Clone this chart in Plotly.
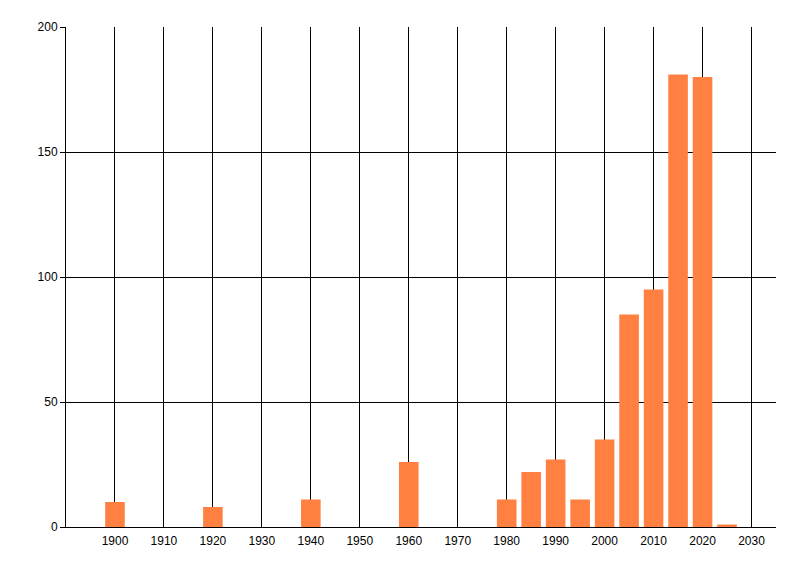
import plotly.graph_objects as go

# Bars by year (5-year buckets)
years = [1900, 1920, 1940, 1960, 1980, 1985, 1990, 1995, 2000, 2005, 2010, 2015, 2020, 2025]
counts = [10, 8, 11, 26, 11, 22, 27, 11, 35, 85, 95, 181, 180, 1]

x_ticks = list(range(1900, 2031, 10))
y_ticks = [0, 50, 100, 150, 200]

fig = go.Figure()
fig.add_trace(go.Bar(
    x=years, y=counts, width=4,
    marker=dict(color="#FF8040", line=dict(width=0)),
))

# page body adds an 8px offset, margins compensate for it
fig.update_layout(
    width=800, height=576,
    margin=dict(l=58, r=32, t=19, b=57),
    paper_bgcolor="white", plot_bgcolor="white",
    font=dict(family="Liberation Sans, Arial, sans-serif", size=12, color="black"),
    showlegend=False,
    xaxis=dict(
        range=[1890, 2035], tickvals=x_ticks, ticktext=[str(t) for t in x_ticks],
        showgrid=True, gridcolor="black", gridwidth=1, zeroline=False,
        showline=True, linecolor="black", linewidth=1, ticks="",
        ticklabelstandoff=3,
    ),
    yaxis=dict(
        range=[0, 200], tickvals=y_ticks,
        showgrid=True, gridcolor="black", gridwidth=1, zeroline=False,
        showline=True, linecolor="black", linewidth=1,
        ticks="outside", ticklen=5, tickcolor="black",
    ),
)

fig.write_html("out.html")
